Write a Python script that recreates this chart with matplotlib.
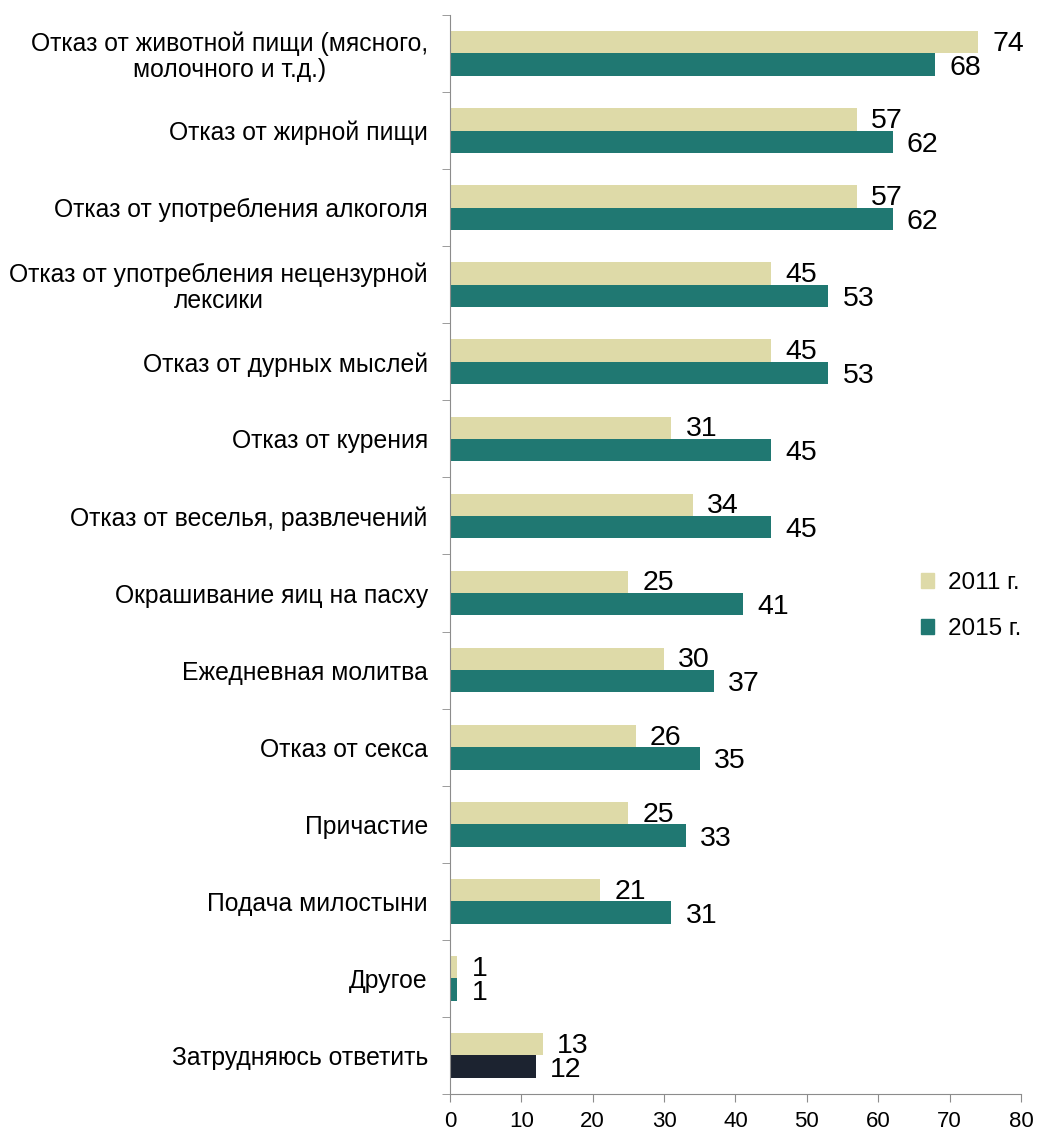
import numpy as np
import matplotlib.pyplot as plt
from matplotlib.patches import Patch

categories = [
    "Отказ от животной пищи (мясного,\nмолочного и т.д.)",
    "Отказ от жирной пищи",
    "Отказ от употребления алкоголя",
    "Отказ от употребления нецензурной\nлексики",
    "Отказ от дурных мыслей",
    "Отказ от курения",
    "Отказ от веселья, развлечений",
    "Окрашивание яиц на пасху",
    "Ежедневная молитва",
    "Отказ от секса",
    "Причастие",
    "Подача милостыни",
    "Другое",
    "Затрудняюсь ответить",
]
values_2011 = [74, 57, 57, 45, 45, 31, 34, 25, 30, 26, 25, 21, 1, 13]
values_2015 = [68, 62, 62, 53, 53, 45, 45, 41, 37, 35, 33, 31, 1, 12]
series_names = ["2011 г.", "2015 г."]
xticks = [0, 10, 20, 30, 40, 50, 60, 70, 80]

c2011 = "#DEDAA8"
c2015 = "#207872"
c_last = "#1C2330"

plt.rcParams['font.family'] = ['Liberation Sans', 'DejaVu Sans']

fig = plt.figure(figsize=(10.38, 11.33), dpi=100)
ax = fig.add_axes([0.4335, 0.0344, 0.9836 - 0.4335, 0.9868 - 0.0344])

n = len(categories)
y = np.arange(n)
h = 0.29

colors_2015 = [c2015] * n
colors_2015[-1] = c_last

ax.barh(y - h / 2, values_2011, height=h, color=c2011)
ax.barh(y + h / 2, values_2015, height=h, color=colors_2015)

# value labels to the right of each bar
for i in range(n):
    ax.text(values_2011[i] + 2.0, y[i] - h / 2 + 0.02, str(values_2011[i]),
            va='center', ha='left', fontsize=20.5)
    ax.text(values_2015[i] + 2.0, y[i] + h / 2 + 0.04, str(values_2015[i]),
            va='center', ha='left', fontsize=20.5)

ax.set_ylim(n - 0.5, -0.5)
ax.set_xlim(0, 80)
ax.set_yticks(y)
labels = ax.set_yticklabels(categories, fontsize=17.8, linespacing=1.1)
for lab in labels:
    lab.set_multialignment('center')
ax.tick_params(axis='y', length=0, pad=16)
ax.set_yticks(np.arange(n + 1) - 0.5, minor=True)
ax.tick_params(axis='y', which='minor', length=6, color='#8c8c8c')
ax.set_xticks(xticks)
ax.tick_params(axis='x', labelsize=16, length=6, color='#8c8c8c', pad=6)

for s in ['top', 'right']:
    ax.spines[s].set_visible(False)
for s in ['left', 'bottom']:
    ax.spines[s].set_color('#8c8c8c')

handles = [Patch(color=c2011), Patch(color=c2015)]
fig.legend(handles, series_names, loc='center left', bbox_to_anchor=(0.866, 0.465),
           frameon=False, fontsize=17.5, handlelength=0.55, handleheight=0.6,
           handletextpad=0.55, labelspacing=1.0)

fig.savefig("out.png", dpi=100)
